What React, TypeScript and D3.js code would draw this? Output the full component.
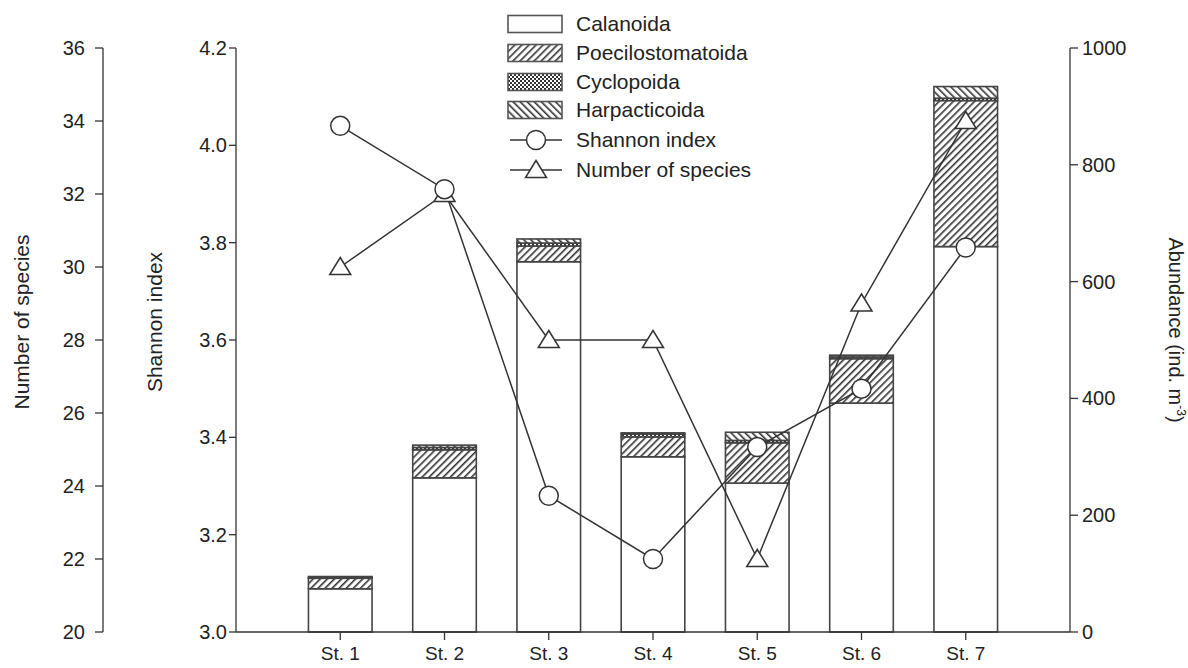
import React from 'react';
import * as d3 from 'd3';

// stations along the x axis
const stations = ['St. 1', 'St. 2', 'St. 3', 'St. 4', 'St. 5', 'St. 6', 'St. 7'];

// abundance (ind. m-3) per group
const calanoida = [74, 264, 634, 300, 255, 392, 660];
const poecilostomatoida = [18, 48, 27, 34, 69, 76, 250];
const cyclopoida = [1, 4, 5, 5, 4, 3, 4];
const harpacticoida = [2, 4, 7, 2, 14, 3, 20];

// line series
const shannon = [4.04, 3.91, 3.28, 3.15, 3.38, 3.5, 3.79];
const species = [30, 32, 28, 28, 22, 29, 34];

// ticks
const speciesTicks = [20, 22, 24, 26, 28, 30, 32, 34, 36];
const shannonTicks = [3.0, 3.2, 3.4, 3.6, 3.8, 4.0, 4.2];
const abundanceTicks = [0, 200, 400, 600, 800, 1000];

const groups = ['Calanoida', 'Poecilostomatoida', 'Cyclopoida', 'Harpacticoida'];
const fills = ['#fff', 'url(#pPoe)', 'url(#pCyc)', 'url(#pHar)'];

const W = 1188;
const H = 668;
const top = 48;
const bottom = 632;
const xLeft = 236;
const xRight = 1070;
const xSpecies = 103;
const ink = '#333';
const font = '"Liberation Sans", Arial, sans-serif';

export default function App() {
  const x = d3.scalePoint<string>().domain(stations).range([xLeft, xRight]).padding(1);
  const barW = x.step() * 0.61;
  const yA = d3.scaleLinear().domain([0, 1000]).range([bottom, top]);
  const yS = d3.scaleLinear().domain([3.0, 4.2]).range([bottom, top]);
  const yN = d3.scaleLinear().domain([20, 36]).range([bottom, top]);

  const rows = stations.map((s, i) => ({
    station: s,
    Calanoida: calanoida[i],
    Poecilostomatoida: poecilostomatoida[i],
    Cyclopoida: cyclopoida[i],
    Harpacticoida: harpacticoida[i],
  }));
  const stacked = d3.stack<any>().keys(groups)(rows);

  const shLine = d3.line<number>().x((_, i) => x(stations[i])!).y(d => yS(d));
  const spLine = d3.line<number>().x((_, i) => x(stations[i])!).y(d => yN(d));

  const tri = (cx: number, cy: number) => {
    const r = 10;
    return `M${cx},${cy - r * 0.95} L${cx + r * 1.05},${cy + r * 0.75} L${cx - r * 1.05},${cy + r * 0.75} Z`;
  };

  const legendX = 508;
  const legendRows = [24, 53, 82, 110, 140, 170];

  return (
    <svg width={W} height={H} style={{ position: 'absolute', left: 0, top: 0, background: '#fff' }}
      fontFamily={font} fontSize={20} fill="#222">
      <defs>
        <pattern id="pPoe" patternUnits="userSpaceOnUse" width={5} height={5} patternTransform="rotate(45)">
          <rect width={5} height={5} fill="#fff" />
          <rect x={0} y={0} width={1.6} height={5} fill={ink} />
        </pattern>
        <pattern id="pHar" patternUnits="userSpaceOnUse" width={5} height={5} patternTransform="rotate(-45)">
          <rect width={5} height={5} fill="#fff" />
          <rect x={0} y={0} width={1.6} height={5} fill={ink} />
        </pattern>
        <pattern id="pCyc" patternUnits="userSpaceOnUse" width={4} height={4}>
          <rect width={4} height={4} fill="#fff" />
          <rect x={0} y={0} width={2} height={2} fill={ink} />
          <rect x={2} y={2} width={2} height={2} fill={ink} />
        </pattern>
      </defs>

      {/* bars */}
      {stacked.map((layer, k) => (
        <g key={groups[k]}>
          {layer.map((d, i) => (
            <rect key={i} x={x(stations[i])! - barW / 2} y={yA(d[1])} width={barW}
              height={yA(d[0]) - yA(d[1])} fill={fills[k]} stroke="#444" strokeWidth={1.6} />
          ))}
        </g>
      ))}

      {/* lines */}
      <path d={spLine(species)!} fill="none" stroke={ink} strokeWidth={1.5} />
      <path d={shLine(shannon)!} fill="none" stroke={ink} strokeWidth={1.5} />
      {species.map((v, i) => (
        <path key={i} d={tri(x(stations[i])!, yN(v))} fill="#fff" stroke={ink} strokeWidth={1.5} />
      ))}
      {shannon.map((v, i) => (
        <circle key={i} cx={x(stations[i])!} cy={yS(v)} r={9.5} fill="#fff" stroke={ink} strokeWidth={1.5} />
      ))}

      {/* species axis */}
      <line x1={xSpecies} x2={xSpecies} y1={top} y2={bottom} stroke={ink} strokeWidth={1.3} />
      {speciesTicks.map(t => (
        <g key={t}>
          <line x1={xSpecies - 8} x2={xSpecies} y1={yN(t)} y2={yN(t)} stroke={ink} strokeWidth={1.3} />
          <text x={xSpecies - 18} y={yN(t)} dy="0.35em" textAnchor="end">{t}</text>
        </g>
      ))}
      <text transform={`translate(22,${322}) rotate(-90)`} textAnchor="middle" dy="0.35em" fontSize={21}>Number of species</text>

      {/* shannon axis */}
      <line x1={xLeft} x2={xLeft} y1={top} y2={bottom} stroke={ink} strokeWidth={1.3} />
      {shannonTicks.map(t => (
        <g key={t}>
          <line x1={xLeft - 7} x2={xLeft} y1={yS(t)} y2={yS(t)} stroke={ink} strokeWidth={1.3} />
          <text x={xLeft - 9} y={yS(t)} dy="0.35em" textAnchor="end">{t.toFixed(1)}</text>
        </g>
      ))}
      <text transform={`translate(155,${322}) rotate(-90)`} textAnchor="middle" dy="0.35em" fontSize={21}>Shannon index</text>

      {/* abundance axis */}
      <line x1={xRight} x2={xRight} y1={top} y2={bottom} stroke={ink} strokeWidth={1.3} />
      {abundanceTicks.map(t => (
        <g key={t}>
          <line x1={xRight} x2={xRight + 8} y1={yA(t)} y2={yA(t)} stroke={ink} strokeWidth={1.3} />
          <text x={xRight + 12} y={yA(t)} dy="0.35em" textAnchor="start">{t}</text>
        </g>
      ))}
      <text transform={`translate(1176,${330}) rotate(90)`} textAnchor="middle" dy="0.35em" fontSize={20}>
        Abundance (ind. m<tspan fontSize={12} dy="-0.7em">-3</tspan><tspan dy="0.42em">)</tspan>
      </text>

      {/* x axis */}
      <line x1={xLeft} x2={xRight} y1={bottom} y2={bottom} stroke={ink} strokeWidth={1.3} />
      {stations.map(s => (
        <g key={s}>
          <line x1={x(s)!} x2={x(s)!} y1={bottom} y2={bottom + 8} stroke={ink} strokeWidth={1.3} />
          <text x={x(s)!} y={bottom + 28} fontSize={19} textAnchor="middle">{s}</text>
        </g>
      ))}

      {/* legend */}
      {groups.map((g, k) => (
        <g key={g}>
          <rect x={legendX} y={legendRows[k] - 8.5} width={54} height={17} fill={fills[k]} stroke="#555" strokeWidth={1.6} />
          <text x={legendX + 68} y={legendRows[k]} dy="0.35em" fontSize={21}>{g}</text>
        </g>
      ))}
      <g>
        <line x1={legendX + 2} x2={legendX + 54} y1={legendRows[4]} y2={legendRows[4]} stroke={ink} strokeWidth={1.5} />
        <circle cx={legendX + 28} cy={legendRows[4]} r={9.5} fill="#fff" stroke={ink} strokeWidth={1.5} />
        <text x={legendX + 68} y={legendRows[4]} dy="0.35em" fontSize={21}>Shannon index</text>
      </g>
      <g>
        <line x1={legendX + 2} x2={legendX + 54} y1={legendRows[5]} y2={legendRows[5]} stroke={ink} strokeWidth={1.5} />
        <path d={tri(legendX + 28, legendRows[5])} fill="#fff" stroke={ink} strokeWidth={1.5} />
        <text x={legendX + 68} y={legendRows[5]} dy="0.35em" fontSize={21}>Number of species</text>
      </g>
    </svg>
  );
}
